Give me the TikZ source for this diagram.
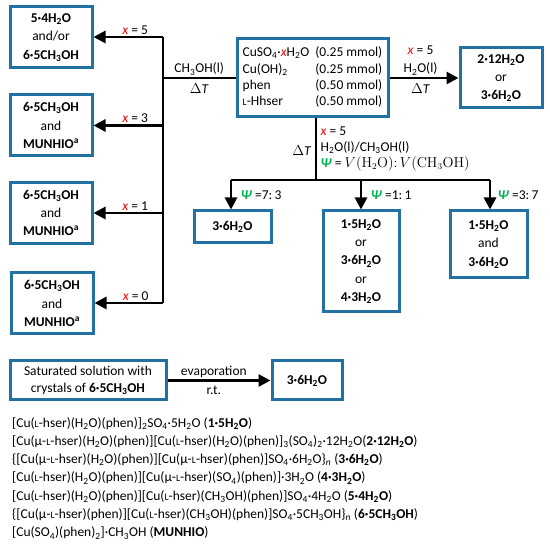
\documentclass[tikz,border=0pt]{standalone}
\usepackage[no-math]{fontspec}
\setmainfont{Carlito}
\usetikzlibrary{arrows.meta}
\definecolor{boxblue}{RGB}{34,113,163}
\definecolor{psigreen}{RGB}{0,176,80}
\newcommand{\Ls}{{\fontsize{9.8pt}{9.8pt}\selectfont L}}
\newcommand{\Hw}{H\textsubscript{2}O}
\newcommand{\Me}{CH\textsubscript{3}OH}
\newcommand{\SOf}{SO\textsubscript{4}}
\newcommand{\xr}{\textcolor{red}{\textit{x}}}
\newcommand{\Psig}{\textcolor{psigreen}{\textbf{\textit{Ψ}}}}
\tikzset{
	box/.style = {
		draw=boxblue,
		line width=3pt,
		align=center,
		inner sep=2pt
	},
	box_sq/.style = {
		box,
		minimum width=82pt,
		minimum height=61pt
	},
	link/.style = {
		line width=2.8pt
	},
	link_arrow/.style = {
		link,
		-{Triangle[length=12pt 0,width=12pt 0]}
	},
	tag/.style = {
		inner sep=1.5pt
	}
}

\begin{document}
\begin{tikzpicture}[x=1pt,y=-1pt,font=\fontsize{13.5pt}{18.3pt}\selectfont]
\useasboundingbox (0,0) rectangle (550,548);

\node [box_sq] (p54) at (51,37.5) {\textbf{5·4\Hw}\\and/or\\\textbf{6·5\Me}};
\node [box_sq] (p65a) at (51,125.5) {\textbf{6·5\Me}\\and\\\textbf{MUNHIO\textsuperscript{a}}};
\node [box_sq] (p65b) at (51,213) {\textbf{6·5\Me}\\and\\\textbf{MUNHIO\textsuperscript{a}}};
\node [box_sq] (p65c) at (52,303.5) {\textbf{6·5\Me}\\and\\\textbf{MUNHIO\textsuperscript{a}}};

\node [box, minimum width=151pt, minimum height=78pt] (start) at (312.5,78) {\renewcommand{\arraystretch}{0.89}%
	\begin{tabular}{@{}l@{\hspace{6pt}}r@{}}
		CuSO\textsubscript{4}·\xr\Hw & (0.25 mmol)\\
		Cu(OH)\textsubscript{2} & (0.25 mmol)\\
		phen & (0.50 mmol)\\
		\Ls-Hhser & (0.50 mmol)
	\end{tabular}};

\node [box_sq, minimum height=60pt] (p212) at (501,78) {\textbf{2·12\Hw}\\or\\\textbf{3·6\Hw}};

\node [box, minimum width=77pt, minimum height=32pt] (p36a) at (232.5,227) {\textbf{3·6\Hw}};
\node [box, minimum width=76pt, minimum height=101pt] (p15a) at (361,261.5) {\textbf{1·5\Hw}\\or\\\textbf{3·6\Hw}\\or\\\textbf{4·3\Hw}};
\node [box, minimum width=77pt, minimum height=67pt] (p15b) at (488.5,244.5) {\textbf{1·5\Hw}\\and\\\textbf{3·6\Hw}};

\node [box, minimum width=156pt, minimum height=39pt, font=\fontsize{13.5pt}{17pt}\selectfont] (sat) at (88,380.5) {Saturated solution with\\crystals of \textbf{6·5\Me}};
\node [box, minimum width=70pt, minimum height=39pt] (p36b) at (307,380.5) {\textbf{3·6\Hw}};

\coordinate (j_top) at (163,37);
\coordinate (j_bot) at (163,303);
\coordinate (j_psi) at (316,180);
\coordinate (psi_l) at (231,180);
\coordinate (psi_m) at (361,180);
\coordinate (psi_r) at (490,180);

\draw [link] (j_top) -- (j_bot);
\draw [link] (start.west) -- (start.west -| j_top)
	node [tag, midway, above] (lab_me) {\Me(l)}
	node [tag, midway, below=3pt] (lab_dt1) {$\Delta$\textit{T}};
\draw [link_arrow] (j_top) -- (j_top -| p54.east) node [tag, pos=0.4, above] (lab_x5) {\xr{} = 5};
\draw [link_arrow] (j_top |- p65a.east) -- (p65a.east) node [tag, pos=0.4, above] (lab_x3) {\xr{} = 3};
\draw [link_arrow] (j_top |- p65b.east) -- (p65b.east) node [tag, pos=0.4, above] (lab_x1) {\xr{} = 1};
\draw [link_arrow] (j_bot) -- (j_bot -| p65c.east) node [tag, pos=0.4, above] (lab_x0) {\xr{} = 0};

\draw [link_arrow] (start.east) -- (p212.west)
	node [tag, pos=0.45, above, align=center] (lab_hw) {\xr{} = 5\\\Hw(l)}
	node [tag, pos=0.45, below=3pt] (lab_dt2) {$\Delta$\textit{T}};

\draw [link] (j_psi |- start.south) -- (j_psi);
\node [tag, anchor=north west, align=left, font=\fontsize{13.5pt}{16.2pt}\selectfont] (lab_mix) at (319,125) {\xr{} = 5\\\Hw(l)/\Me(l)\\\Psig{} = $V(\mathrm{H_2O})\colon V(\mathrm{CH_3OH})$};
\node [tag, anchor=east] (lab_dt3) at (313,151) {$\Delta$\textit{T}};

\draw [link] (psi_l) -- (psi_r);
\draw [link_arrow] (psi_l) -- (psi_l |- p36a.north) node [tag, midway, anchor=west, xshift=7pt] (lab_p73) {\Psig{} =7:\,3};
\draw [link_arrow] (psi_m) -- (psi_m |- p15a.north) node [tag, midway, anchor=west, xshift=7pt] (lab_p11) {\Psig{} =1:\,1};
\draw [link_arrow] (psi_r) -- (psi_r |- p15b.north) node [tag, midway, anchor=west, xshift=5pt] (lab_p37) {\Psig{} =3:\,7};

\draw [link_arrow] (sat.east) -- (p36b.west)
	node [tag, pos=0.45, above] (lab_ev) {evaporation}
	node [tag, pos=0.45, below=3pt] (lab_rt) {r.t.};

\node [anchor=north west, align=left, inner sep=0pt] (legend) at (12,417) {%
	{[}Cu(\Ls-hser)(\Hw)(phen)]\textsubscript{2}\SOf·5\Hw{} (\textbf{1·5\Hw})\\
	{[}Cu(μ-\Ls-hser)(\Hw)(phen)][Cu(\Ls-hser)(\Hw)(phen)]\textsubscript{3}(\SOf)\textsubscript{2}·12\Hw(\textbf{2·12\Hw})\\
	\{[Cu(μ-\Ls-hser)(\Hw)(phen)][Cu(μ-\Ls-hser)(phen)]\SOf·6\Hw\}\textsubscript{\textit{n}} (\textbf{3·6\Hw})\\
	{[}Cu(\Ls-hser)(\Hw)(phen)][Cu(μ-\Ls-hser)(\SOf)(phen)]·3\Hw{} (\textbf{4·3\Hw})\\
	{[}Cu(\Ls-hser)(\Hw)(phen)][Cu(\Ls-hser)(\Me)(phen)]\SOf·4\Hw{} (\textbf{5·4\Hw})\\
	\{[Cu(μ-\Ls-hser)(phen)][Cu(\Ls-hser)(\Me)(phen)]\SOf·5\Me\}\textsubscript{\textit{n}} (\textbf{6·5\Me})\\
	{[}Cu(\SOf)(phen)\textsubscript{2}]·\Me{} (\textbf{MUNHIO})};
\end{tikzpicture}
\end{document}
